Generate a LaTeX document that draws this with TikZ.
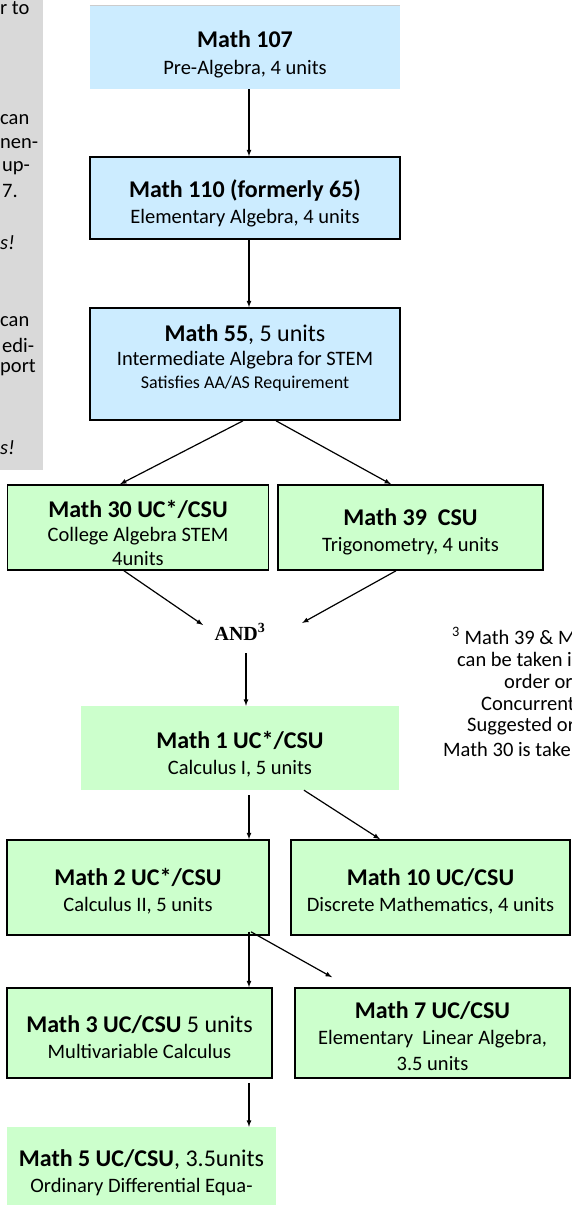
\documentclass[tikz,border=0pt]{standalone}
\usepackage{fontspec}
\setmainfont{Carlito}
\newfontfamily\timesfont{Liberation Serif}
\usetikzlibrary{arrows}
\definecolor{boxblue}{RGB}{204,236,255}
\definecolor{boxgreen}{RGB}{204,255,204}
\definecolor{sidegray}{RGB}{217,217,217}
\newcommand{\subsize}{\fontsize{20.5}{26}\selectfont}
\newcommand{\ttlsize}{\fontsize{24}{26}\selectfont}
\newcommand{\notesize}{\fontsize{18}{24}\selectfont}
\newcommand{\ttl}[1]{{\ttlsize\bfseries #1}}
\newcommand{\topgap}[1]{\rule{0pt}{#1pt}}

\begin{document}
\begin{tikzpicture}[x=1pt,y=-1pt]
				\tikzset{course/.style={align=center,inner sep=0pt,font=\subsize},
					bluebox/.style={course,fill=boxblue,draw=black,line width=1.6pt},
					greenbox/.style={course,fill=boxgreen,draw=black,line width=1.6pt},
					flatbox/.style={course,fill=boxgreen},
					sidetext/.style={anchor=west,inner sep=0pt,font=\subsize},
					link/.style={->,>=latex,line width=1.2pt}}
				
				% Fix the size of the page
				\useasboundingbox (0,0) rectangle (571,1205);
				
				% Gray side panel with its cut text
				\fill[sidegray] (0,0) rectangle (43,470);
				\node[sidetext] (g1) at (0,8) {r to};
				\node[sidetext] (g2) at (0,120) {can};
				\node[sidetext] (g3) at (0,144) {nen-};
				\node[sidetext] (g4) at (2,168) {up-};
				\node[sidetext] (g5) at (2,191) {7.};
				\node[sidetext] (g6) at (0,243) {\itshape s!};
				\node[sidetext] (g7) at (0,322) {can};
				\node[sidetext] (g8) at (2,345) {edi-};
				\node[sidetext] (g9) at (0,368) {port};
				\node[sidetext] (g10) at (0,448) {\itshape s!};
				
				% Algebra boxes
				\node[course,fill=boxblue,minimum width=310,minimum height=84] (m107) at (245,47)
					{\topgap{32}\ttl{Math 107}\\[1pt]Pre-Algebra, 4 units};
				\draw[gray!40] (m107.north west) -- (m107.north east);
				\node[bluebox,minimum width=310,minimum height=82] (m110) at (245,198)
					{\topgap{28}\ttl{Math 110 (formerly 65)}\\Elementary Algebra, 4 units};
				\node[bluebox,minimum width=310,minimum height=112] (m55) at (245,364)
					{{\ttlsize\textbf{Math 55}, 5 units}\\[-2pt]Intermediate Algebra for STEM\\[-3pt]{\notesize Satisfies AA/AS Requirement}\rule[-14pt]{0pt}{1pt}};
				
				% Precalculus boxes
				\node[greenbox,minimum width=261,minimum height=85] (m30) at (138,527.5)
					{\topgap{28}\ttl{Math 30 UC*/CSU}\\[-2pt]College Algebra STEM\\[-2pt]4units};
				\node[greenbox,minimum width=265,minimum height=85] (m39) at (410.5,527.5)
					{\topgap{26}\ttl{Math 39\ \ CSU}\\Trigonometry, 4 units};
				\node[inner sep=0pt,font={\fontsize{20}{24}\selectfont\timesfont\bfseries}] (and) at (240,632)
					{AND\textsuperscript{3}};
				
				% Footnote, cut at the right edge
				\node[sidetext] (fn1) at (452,636) {\textsuperscript{3} Math 39 \& M};
				\node[sidetext] (fn2) at (457,659) {can be taken i};
				\node[sidetext] (fn3) at (504,681) {order or};
				\node[sidetext] (fn4) at (481,704) {Concurrent};
				\node[sidetext] (fn5) at (467,726) {Suggested or};
				\node[sidetext] (fn6) at (443,749) {Math 30 is take};
				
				% Calculus boxes
				\node[flatbox,minimum width=318,minimum height=84] (m1) at (240,748)
					{\topgap{30}\ttl{Math 1 UC*/CSU}\\Calculus I, 5 units};
				\node[greenbox,minimum width=262,minimum height=95] (m2) at (138,887.5)
					{\topgap{24}\ttl{Math 2 UC*/CSU}\\Calculus II, 5 units};
				\node[greenbox,minimum width=279,minimum height=95] (m10) at (430.5,887.5)
					{\topgap{24}\ttl{Math 10 UC/CSU}\\Discrete Mathematics, 4 units};
				\node[greenbox,minimum width=265,minimum height=90] (m3) at (139.5,1033)
					{\topgap{26}{\ttlsize\textbf{Math 3 UC/CSU} 5 units}\\Multivariable Calculus};
				\node[greenbox,minimum width=275,minimum height=90] (m7) at (432.5,1033)
					{\topgap{24}\ttl{Math 7 UC/CSU}\\Elementary\ \ Linear Algebra,\\3.5 units};
				\node[flatbox,minimum width=269,minimum height=92] (m5) at (141.5,1173)
					{{\ttlsize\textbf{Math 5 UC/CSU}, 3.5units}\\Ordinary Differential Equa-};
				
				% Arrows
				\draw[link] ([xshift=4pt]m107.south) -- ([xshift=4pt]m110.north);
				\draw[link] ([xshift=4pt]m110.south) -- ([xshift=4pt]m55.north);
				\draw[link] ([xshift=-2pt]m55.south) -- ([xshift=-18pt]m30.north);
				\draw[link] ([xshift=31pt]m55.south) -- ([xshift=-19.5pt]m39.north);
				\draw[link] ([xshift=-14pt]m30.south) -- ([xshift=-37pt,yshift=7pt]and.center);
				\draw[link] ([xshift=-14.5pt]m39.south) -- ([xshift=62pt,yshift=9pt]and.center);
				\draw[link] ([xshift=6pt,yshift=-21pt]and.center) -- ([xshift=6pt]m1.north);
				\draw[link] ([xshift=9pt,yshift=-5pt]m1.south) -- ([xshift=111pt]m2.north);
				\draw[link] ([xshift=64pt]m1.south) -- ([xshift=-50.5pt]m10.north);
				\draw[link] ([xshift=111pt,yshift=4pt]m2.south) -- ([xshift=109.5pt]m3.north);
				\draw[link] ([xshift=113pt,yshift=4pt]m2.south) -- ([xshift=-100.5pt,yshift=10pt]m7.north);
				\draw[link] ([xshift=109.5pt,yshift=-4pt]m3.south) -- ([xshift=107.5pt]m5.north);
				
			\end{tikzpicture}
\end{document}
